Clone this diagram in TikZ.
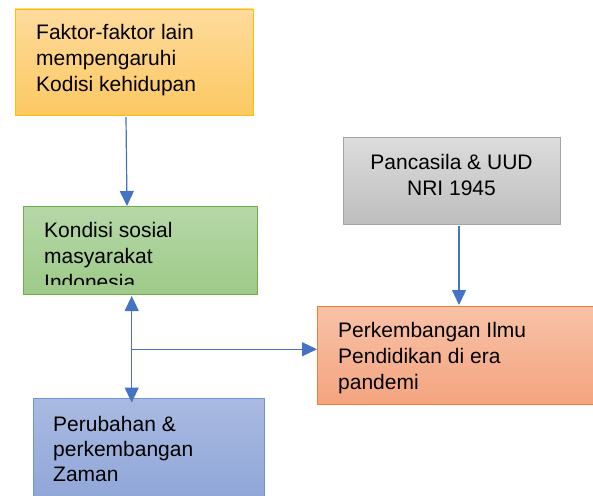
\documentclass[tikz,border=0pt]{standalone}
\usepackage{fontspec}
\setmainfont{Liberation Sans}
\usetikzlibrary{arrows.meta,calc}
\definecolor{arrowblue}{HTML}{4472C4}
\definecolor{fakBorder}{HTML}{FFC000}
\definecolor{fakTop}{HTML}{FEDB9C}
\definecolor{fakBot}{HTML}{FCC862}
\definecolor{konBorder}{HTML}{70AD47}
\definecolor{konTop}{HTML}{B6D8A8}
\definecolor{konBot}{HTML}{9ECA88}
\definecolor{panBorder}{HTML}{A5A5A5}
\definecolor{panTop}{HTML}{DCDCDC}
\definecolor{panBot}{HTML}{BEBEBE}
\definecolor{perBorder}{HTML}{ED7D31}
\definecolor{perTop}{HTML}{F8C2A8}
\definecolor{perBot}{HTML}{F4A47F}
\definecolor{zamBorder}{HTML}{6F93D6}
\definecolor{zamTop}{HTML}{AABAE2}
\definecolor{zamBot}{HTML}{8AA3D6}
\tikzset{
  box/.style={draw, line width=0.9pt, anchor=north west, inner sep=0pt, outer sep=0pt},
  lbl/.style={anchor=base west, inner sep=0pt, font=\fontsize{21}{26}\selectfont},
  clbl/.style={anchor=base, inner sep=0pt, font=\fontsize{21}{26}\selectfont},
  conn/.style={draw=arrowblue, line width=1.2pt, -{Triangle[width=14pt,length=15pt]}},
  dconn/.style={draw=arrowblue, line width=1.2pt, {Triangle[width=14pt,length=15pt]}-{Triangle[width=14pt,length=15pt]}},
  plain/.style={draw=arrowblue, line width=1.2pt}
}
\begin{document}
\begin{tikzpicture}[x=1pt,y=-1pt]
\useasboundingbox (0,0) rectangle (593,495);
\clip (0,0) rectangle (593,495);
% boxes
\node[box, draw=fakBorder, top color=fakTop, bottom color=fakBot, minimum width=238pt, minimum height=106pt] (fak) at (15,9) {};
\node[box, draw=konBorder, top color=konTop, bottom color=konBot, minimum width=234pt, minimum height=88pt] (kon) at (23,206) {};
\node[box, draw=panBorder, top color=panTop, bottom color=panBot, minimum width=217pt, minimum height=87pt] (pan) at (343,137) {};
\node[box, draw=perBorder, top color=perTop, bottom color=perBot, minimum width=290pt, minimum height=98pt] (per) at (317,306) {};
\node[box, draw=zamBorder, top color=zamTop, bottom color=zamBot, minimum width=231pt, minimum height=120pt] (zam) at (33,398) {};
% texts
\node[lbl] (fak1) at (36,39.5) {Faktor-faktor lain};
\node[lbl] (fak2) at (36,65.5) {mempengaruhi};
\node[lbl] (fak3) at (36,91.5) {Kodisi kehidupan};
\node[lbl] (kon1) at (44,237) {Kondisi sosial};
\node[lbl] (kon2) at (44,263) {masyarakat};
\begin{scope}
\clip (23,270) rectangle (257,284);
\node[lbl] (kon3) at (44,289) {Indonesia};
\end{scope}
\node[clbl] (pan1) at (451.5,169) {Pancasila \& UUD};
\node[clbl] (pan2) at (451.5,195) {NRI 1945};
\node[lbl] (per1) at (338,337) {Perkembangan Ilmu};
\node[lbl] (per2) at (338,363) {Pendidikan di era};
\node[lbl] (per3) at (338,389) {pandemi};
\node[lbl] (zam1) at (53,431) {Perubahan \&};
\node[lbl] (zam2) at (53,456) {perkembangan};
\node[lbl] (zam3) at (53,481.5) {Zaman};
% connector anchors
\coordinate (fakOut) at ($(fak.south west)+(111,2)$);
\coordinate (konIn) at ($(kon.north west)+(104,0)$);
\coordinate (konOut) at ($(kon.south west)+(108.7,2)$);
\coordinate (zamIn) at ($(zam.north west)+(98.7,4.5)$);
\coordinate (junc) at ($(konOut)!0.5!(zamIn)$);
\coordinate (panOut) at ($(pan.south west)+(116,2)$);
\coordinate (perIn) at ($(per.north west)+(142,-1)$);
\coordinate (perW) at (per.west |- junc);
% connectors
\draw[conn] (fakOut) -- (konIn);
\draw[conn] (panOut) -- (perIn);
\draw[dconn] (konOut) -- (zamIn);
\draw[conn] (junc) -- (perW);
\end{tikzpicture}
\end{document}
